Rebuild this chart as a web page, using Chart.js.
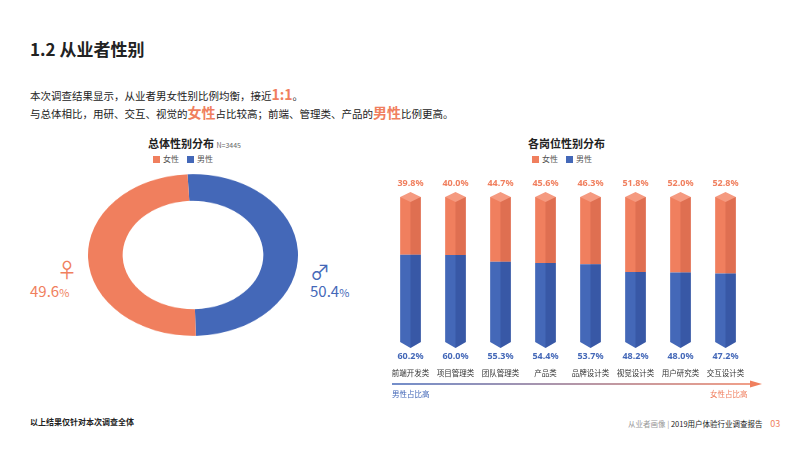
<!DOCTYPE html><html><head><meta charset="utf-8">
<script src="https://cdn.jsdelivr.net/npm/chart.js@4/dist/chart.umd.min.js"></script>
<style>
body{margin:0;width:800px;height:459px;background:#fff;font-family:"Noto Sans CJK SC","Noto Sans",sans-serif;position:relative;overflow:hidden;color:#222}
.a{position:absolute;white-space:nowrap}
.lg{font-size:8px;color:#555}
.sq{display:inline-block;width:7px;height:7px;margin:0 3px 0 8px;vertical-align:-1px}
</style></head><body>
<div class="a" style="left:30px;top:36px;font-size:17px;font-weight:bold">1.2 从业者性别</div>
<div class="a" style="left:30px;top:84px;font-size:10.5px">本次调查结果显示，从业者男女性别比例均衡，接近<b style="color:#f07f5e;font-size:14px">1:1</b>。</div>
<div class="a" style="left:30px;top:102px;font-size:10.5px">与总体相比，用研、交互、视觉的<b style="color:#f07f5e;font-size:14px">女性</b>占比较高；前端、管理类、产品的<b style="color:#f07f5e;font-size:14px">男性</b>比例更高。</div>
<div class="a" style="left:148px;top:135px;font-size:11px;font-weight:bold">总体性别分布 <span style="font-weight:normal;font-size:7px;color:#666">N=3445</span></div>
<div class="a lg" style="left:145px;top:153px"><span class="sq" style="background:#f07f5e"></span>女性<span class="sq" style="background:#4468b8"></span>男性</div>
<div class="a" style="left:528px;top:135px;font-size:11px;font-weight:bold">各岗位性别分布</div>
<div class="a lg" style="left:524px;top:153px"><span class="sq" style="background:#f07f5e"></span>女性<span class="sq" style="background:#4468b8"></span>男性</div>
<div class="a" style="left:57px;top:255px;font-size:20px;color:#f07f5e">♀</div>
<div class="a" style="left:30px;top:280px;font-size:15px;color:#f07f5e">49.6<span style="font-size:11px">%</span></div>
<div class="a" style="left:310px;top:257px;font-size:20px;color:#4468b8">♂</div>
<div class="a" style="left:310px;top:280px;font-size:15px;color:#4468b8">50.4<span style="font-size:11px">%</span></div>
<div class="a" style="left:88px;top:150px;width:210px;height:210px;transform:scaleY(0.77);transform-origin:50% 50%"><canvas id="d" width="210" height="210"></canvas></div>
<div class="a" style="left:388px;top:140px;width:380px;height:255px"><canvas id="b" width="380" height="255"></canvas></div>
<div class="a" style="left:392px;top:388px;font-size:7.5px;color:#4468b8">男性占比高</div>
<div class="a" style="left:710px;top:388px;font-size:7.5px;color:#f07f5e">女性占比高</div>
<div class="a" style="left:30px;top:416px;font-size:8px;font-weight:bold">以上结果仅针对本次调查全体</div>
<div class="a" style="left:628px;top:417px;font-size:7.5px"><span style="color:#999">从业者画像 | </span>2019用户体验行业调查报告 <span style="color:#f07f5e;font-size:9px;margin-left:6px">03</span></div>
<script>
const totalLabels=['男性','女性'];
const totalValues=[50.4,49.6];
const categories=['前端开发类','项目管理类','团队管理类','产品类','品牌设计类','视觉设计类','用户研究类','交互设计类'];
const female=[39.8,40.0,44.7,45.6,46.3,51.8,52.0,52.8];
const male=[60.2,60.0,55.3,54.4,53.7,48.2,48.0,47.2];
const OR='#f07f5e',BL='#4468b8';
new Chart(document.getElementById('d'),{type:'doughnut',data:{labels:totalLabels,datasets:[{data:totalValues,backgroundColor:[BL,OR],borderWidth:0}]},
options:{responsive:false,animation:false,cutout:'67%',rotation:-3,plugins:{legend:{display:false},tooltip:{enabled:false}}}});
const deco={id:'deco',afterDatasetsDraw(c){const x=c.ctx;
 [0,1].forEach(di=>{c.getDatasetMeta(di).data.forEach((e,i)=>{const w=e.width,l=e.x-w/2,t=Math.min(e.y,e.base),h=Math.abs(e.base-e.y);
  x.fillStyle=di==0?'rgba(20,40,110,0.25)':'rgba(150,40,20,0.18)';x.fillRect(e.x,t,w/2,h);
  if(di==1){x.fillStyle='#f59a80';x.beginPath();x.moveTo(l,t);x.lineTo(e.x,t-5);x.lineTo(l+w,t);x.lineTo(e.x,t+5);x.closePath();x.fill();}
  if(di==0){x.fillStyle=BL;x.beginPath();x.moveTo(l,e.base);x.lineTo(e.x,e.base+6);x.lineTo(l+w,e.base);x.closePath();x.fill();
   x.fillStyle='rgba(20,40,110,0.25)';x.beginPath();x.moveTo(e.x,e.base);x.lineTo(e.x,e.base+6);x.lineTo(l+w,e.base);x.closePath();x.fill();}
 });});
 x.textAlign='center';x.textBaseline='middle';
 const m1=c.getDatasetMeta(1).data,m0=c.getDatasetMeta(0).data;
 categories.forEach((n,i)=>{x.font='bold 9px "Noto Sans"';x.fillStyle=OR;x.fillText(female[i].toFixed(1)+'%',m1[i].x,c.chartArea.top-14);
  x.fillStyle=BL;x.fillText(male[i].toFixed(1)+'%',m0[i].x,c.chartArea.bottom+14);
  x.font='7.5px "Noto Sans CJK SC"';x.fillStyle='#333';x.fillText(n,m0[i].x,c.chartArea.bottom+31);});
 const y=c.chartArea.bottom+42;const g=x.createLinearGradient(4,0,372,0);g.addColorStop(0,BL);g.addColorStop(1,OR);
 x.strokeStyle=g;x.lineWidth=1.5;x.beginPath();x.moveTo(4,y);x.lineTo(366,y);x.stroke();
 x.fillStyle=OR;x.beginPath();x.moveTo(362,y-3.5);x.lineTo(374,y);x.lineTo(362,y+3.5);x.closePath();x.fill();
}};
new Chart(document.getElementById('b'),{type:'bar',data:{labels:categories,datasets:[
 {label:'男性',data:male,backgroundColor:BL,stack:'s'},{label:'女性',data:female,backgroundColor:OR,stack:'s'}]},
 options:{responsive:false,animation:false,layout:{padding:{top:57,bottom:53,left:0,right:20}},
 scales:{x:{display:false,stacked:true},y:{display:false,stacked:true,min:0,max:100}},
 datasets:{bar:{barPercentage:0.46,categoryPercentage:1}},
 plugins:{legend:{display:false},tooltip:{enabled:false}}},plugins:[deco]});
</script></body></html>
